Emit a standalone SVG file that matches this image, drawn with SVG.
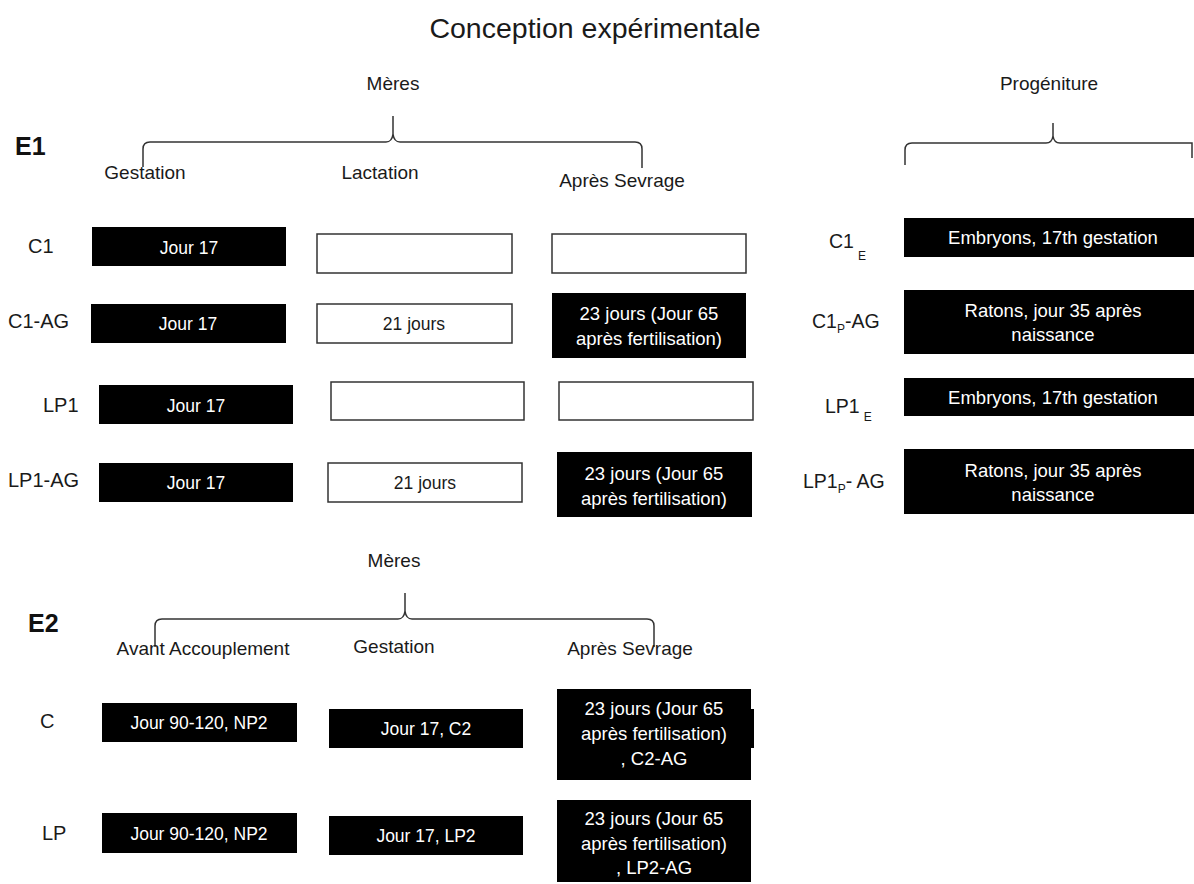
<svg xmlns="http://www.w3.org/2000/svg" width="1194" height="884" viewBox="0 0 1194 884">
<style>
text{font-family:"Liberation Sans",Arial,sans-serif;fill:#1a1a1a;font-size:17.5px}
.title{font-size:28.5px}
.sec{font-size:25px;font-weight:bold;fill:#111}
.hd{font-size:19px}
.lb{font-size:20px}
.rl{font-size:19.5px}
.bt{fill:#fff;text-anchor:middle;font-size:17.5px}
.b2{fill:#fff;text-anchor:middle;font-size:18.5px}
.rt{fill:#fff;text-anchor:middle;font-size:18.5px}
.sub{font-size:12px}
.blk{fill:#000}
.wht{fill:#fff;stroke:#333;stroke-width:1.5}
.brace{fill:none;stroke:#333;stroke-width:1.5}
</style>
<rect width="1194" height="884" fill="#fff"/>
<text class="title" x="595" y="38" text-anchor="middle">Conception expérimentale</text>

<g id="connectors">
<path class="brace" d="M143,167 L143,149 Q143,142 150,142 L386,142 Q392,142 393,134 L393,116 M393,134 Q394,142 400,142 L635,142 Q642,142 642,149 L642,168"/>
<path class="brace" d="M905,165 L905,150 Q905,143 912,143 L1046,143 Q1052,143 1053,136 L1053,123 M1053,136 Q1054,143 1060,143 L1192,143 L1192,158"/>
<path class="brace" d="M155,647 L155,626 Q155,619 162,619 L398,619 Q404,619 405,611 L405,593 M405,611 Q406,619 412,619 L647,619 Q654,619 654,626 L654,647"/>
</g>

<g id="headers-e1">
<text class="sec" x="15" y="155">E1</text>
<text class="hd" x="393" y="90" text-anchor="middle">Mères</text>
<text class="hd" x="145" y="179" text-anchor="middle">Gestation</text>
<text class="hd" x="380" y="179" text-anchor="middle">Lactation</text>
<text class="hd" x="622" y="187" text-anchor="middle">Après Sevrage</text>
<text class="hd" x="1049" y="90" text-anchor="middle">Progéniture</text>
</g>

<g id="row-C1">
<text class="lb" x="28" y="253">C1</text>
<g id="C1-gest"><rect class="blk" x="92" y="227" width="194" height="39"/><text class="bt" x="189" y="254">Jour 17</text></g>
<g id="C1-lact"><rect class="wht" x="317" y="234" width="195" height="39"/></g>
<g id="C1-sevr"><rect class="wht" x="552" y="234" width="194" height="39"/></g>
</g>

<g id="row-C1-AG">
<text class="lb" x="8" y="328">C1-AG</text>
<g id="C1AG-gest"><rect class="blk" x="91" y="304" width="195" height="39"/><text class="bt" x="188" y="330">Jour 17</text></g>
<g id="C1AG-lact"><rect class="wht" x="317" y="304" width="195" height="39"/><text class="bt" x="414" y="330" style="fill:#1a1a1a">21 jours</text></g>
<g id="C1AG-sevr"><rect class="blk" x="552" y="293" width="194" height="65"/><text class="b2" x="649" y="320">23 jours (Jour 65</text><text class="b2" x="649" y="345">après fertilisation)</text></g>
</g>

<g id="row-LP1">
<text class="lb" x="43" y="412">LP1</text>
<g id="LP1-gest"><rect class="blk" x="99" y="385" width="194" height="39"/><text class="bt" x="196" y="412">Jour 17</text></g>
<g id="LP1-lact"><rect class="wht" x="331" y="382" width="193" height="38"/></g>
<g id="LP1-sevr"><rect class="wht" x="559" y="382" width="194" height="38"/></g>
</g>

<g id="row-LP1-AG">
<text class="lb" x="8" y="487">LP1-AG</text>
<g id="LP1AG-gest"><rect class="blk" x="99" y="463" width="194" height="39"/><text class="bt" x="196" y="489">Jour 17</text></g>
<g id="LP1AG-lact"><rect class="wht" x="328" y="463" width="194" height="39"/><text class="bt" x="425" y="489" style="fill:#1a1a1a">21 jours</text></g>
<g id="LP1AG-sevr"><rect class="blk" x="557" y="452" width="195" height="65"/><text class="b2" x="654" y="480">23 jours (Jour 65</text><text class="b2" x="654" y="505">après fertilisation)</text></g>
</g>

<g id="progeny">
<g id="C1E"><text class="rl" x="829" y="248">C1<tspan class="sub" dx="4" dy="12">E</tspan></text><rect class="blk" x="904" y="218" width="290" height="39"/><text class="rt" x="1053" y="244">Embryons, 17th gestation</text></g>
<g id="C1P-AG"><text class="rl" x="812" y="328">C1<tspan class="sub" dy="5">P</tspan><tspan dy="-5">-AG</tspan></text><rect class="blk" x="904" y="290" width="290" height="64"/><text class="rt" x="1053" y="317">Ratons, jour 35 après</text><text class="rt" x="1053" y="341">naissance</text></g>
<g id="LP1E"><text class="rl" x="825" y="413">LP1<tspan class="sub" dx="4" dy="8">E</tspan></text><rect class="blk" x="904" y="378" width="290" height="38"/><text class="rt" x="1053" y="404">Embryons, 17th gestation</text></g>
<g id="LP1P-AG"><text class="rl" x="803" y="488">LP1<tspan class="sub" dy="5">P</tspan><tspan dy="-5">- AG</tspan></text><rect class="blk" x="904" y="449" width="290" height="65"/><text class="rt" x="1053" y="477">Ratons, jour 35 après</text><text class="rt" x="1053" y="501">naissance</text></g>
</g>

<g id="headers-e2">
<text class="sec" x="28" y="632">E2</text>
<text class="hd" x="394" y="567" text-anchor="middle">Mères</text>
<text class="hd" x="203" y="655" text-anchor="middle">Avant Accouplement</text>
<text class="hd" x="394" y="653" text-anchor="middle">Gestation</text>
<text class="hd" x="630" y="655" text-anchor="middle">Après Sevrage</text>
</g>

<g id="row-C">
<text class="lb" x="40" y="728">C</text>
<g id="C-avant"><rect class="blk" x="102" y="703" width="195" height="39"/><text class="bt" x="199" y="729">Jour 90-120, NP2</text></g>
<g id="C-gest"><rect class="blk" x="329" y="709" width="194" height="39"/><text class="bt" x="426" y="735">Jour 17, C2</text></g>
<g id="C-sevr"><rect class="blk" x="557" y="709" width="197" height="39"/><rect class="blk" x="557" y="689" width="194" height="91"/><text class="b2" x="654" y="715">23 jours (Jour 65</text><text class="b2" x="654" y="740">après fertilisation)</text><text class="b2" x="654" y="765">, C2-AG</text></g>
</g>

<g id="row-LP">
<text class="lb" x="42" y="840">LP</text>
<g id="LP-avant"><rect class="blk" x="102" y="813" width="195" height="40"/><text class="bt" x="199" y="840">Jour 90-120, NP2</text></g>
<g id="LP-gest"><rect class="blk" x="329" y="816" width="194" height="39"/><text class="bt" x="426" y="842">Jour 17, LP2</text></g>
<g id="LP-sevr"><rect class="blk" x="557" y="800" width="194" height="82"/><text class="b2" x="654" y="825">23 jours (Jour 65</text><text class="b2" x="654" y="850">après fertilisation)</text><text class="b2" x="654" y="874">, LP2-AG</text></g>
</g>
</svg>
